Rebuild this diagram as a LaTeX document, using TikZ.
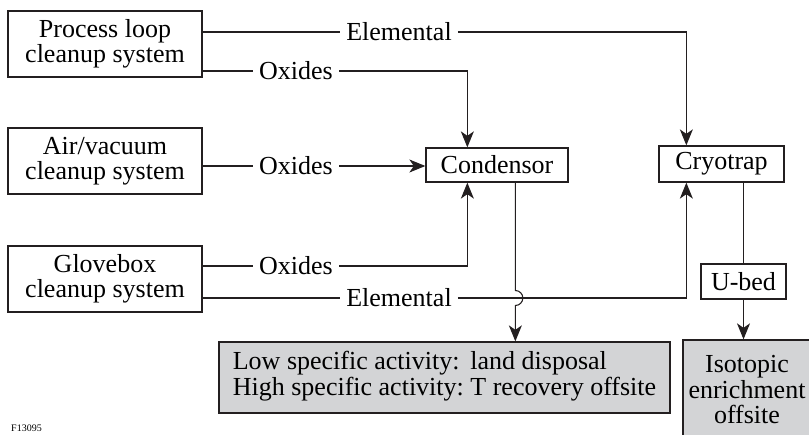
\documentclass[tikz,border=0pt]{standalone}
\usepackage{fontspec}
\setmainfont{Liberation Serif}
\usetikzlibrary{arrows.meta,calc}
\definecolor{ink}{RGB}{35,31,32}
\definecolor{sinkgray}{RGB}{211,212,214}
\tikzset{
  arr/.style={-{Stealth[length=16pt,width=13pt,inset=4.5pt]}, line width=1.1pt, draw=ink},
  line/.style={line width=1.1pt, draw=ink},
  src/.style={draw=ink, line width=1.3pt, minimum width=194pt, minimum height=66pt, align=center, inner sep=0pt},
  unit/.style={draw=ink, line width=1.3pt, inner sep=0pt},
  sink/.style={draw=ink, fill=sinkgray, line width=1.3pt, inner sep=0pt, align=center},
  lbl/.style={inner sep=0pt},
}

\begin{document}
\begin{tikzpicture}[x=1pt, y=-1pt, font=\fontsize{26}{25.5}\selectfont]
  \useasboundingbox (0,0) rectangle (809,434);
  % sources
  \node[src] (plc) at (105,44) {Process loop\\cleanup system};
  \node[src] (avc) at (105,161) {Air/vacuum\\cleanup system};
  \node[src] (gbc) at (105,279) {Glovebox\\cleanup system};
  % traps
  \node[unit, minimum width=142pt, minimum height=34pt] (cond) at (497,165) {Condensor};
  \node[unit, minimum width=125pt, minimum height=36pt] (cryo) at (721.5,164) {Cryotrap};
  \node[unit, minimum width=85pt, minimum height=35pt] (ubed) at (743.5,281.5) {U-bed};
  % sinks
  \node[sink, minimum width=451pt, minimum height=71pt] (lsa) at (444.5,377.5) {%
    \begin{tabular}{@{}l@{\ }l@{}}
      Low specific activity: & land disposal\\
      High specific activity: & T recovery offsite
    \end{tabular}};
  \node[sink, minimum width=128pt, minimum height=100pt] (iso) at (747,390) {Isotopic\\enrichment\\offsite};
  % flow labels
  \node[lbl] (el1) at (399,32) {Elemental};
  \node[lbl] (ox1) at (296,71) {Oxides};
  \node[lbl] (ox2) at (296,166) {Oxides};
  \node[lbl] (ox3) at (296,266) {Oxides};
  \node[lbl] (el2) at (399,298) {Elemental};
  \node[anchor=south west, inner sep=0pt, font=\fontsize{10}{10}\selectfont] (fig) at (11,432) {F13095};
  % connection points
  \coordinate (condin) at ([xshift=42pt]cond.north west);
  \coordinate (condup) at ([xshift=42pt]cond.south west);
  \coordinate (cout) at ([xshift=90pt]cond.south west);
  \coordinate (cryoin) at ([xshift=28pt]cryo.north west);
  \coordinate (cryoup) at ([xshift=28pt]cryo.south west);
  \coordinate (hop) at (cout |- el2);
  % flows
  \draw[line] (el1 -| plc.east) -- ([xshift=-6pt]el1.west);
  \draw[arr] ([xshift=6pt]el1.east) -| (cryoin);
  \draw[line] (ox1 -| plc.east) -- ([xshift=-6pt]ox1.west);
  \draw[arr] ([xshift=6pt]ox1.east) -| (condin);
  \draw[line] (ox2 -| avc.east) -- ([xshift=-6pt]ox2.west);
  \draw[arr] ([xshift=6pt]ox2.east) -- (ox2 -| cond.west);
  \draw[line] (ox3 -| gbc.east) -- ([xshift=-6pt]ox3.west);
  \draw[arr] ([xshift=6pt]ox3.east) -| (condup);
  \draw[line] (el2 -| gbc.east) -- ([xshift=-6pt]el2.west);
  \draw[arr] ([xshift=6pt]el2.east) -| (cryoup);
  \draw[arr] (cout) -- ([yshift=7.5pt]hop) arc[start angle=-90, end angle=90, radius=7.5] -- (cout |- lsa.north);
  \draw[line] (ubed.north |- cryo.south) -- (ubed.north);
  \draw[arr] (ubed.south) -- (ubed.south |- iso.north);
\end{tikzpicture}
\end{document}
